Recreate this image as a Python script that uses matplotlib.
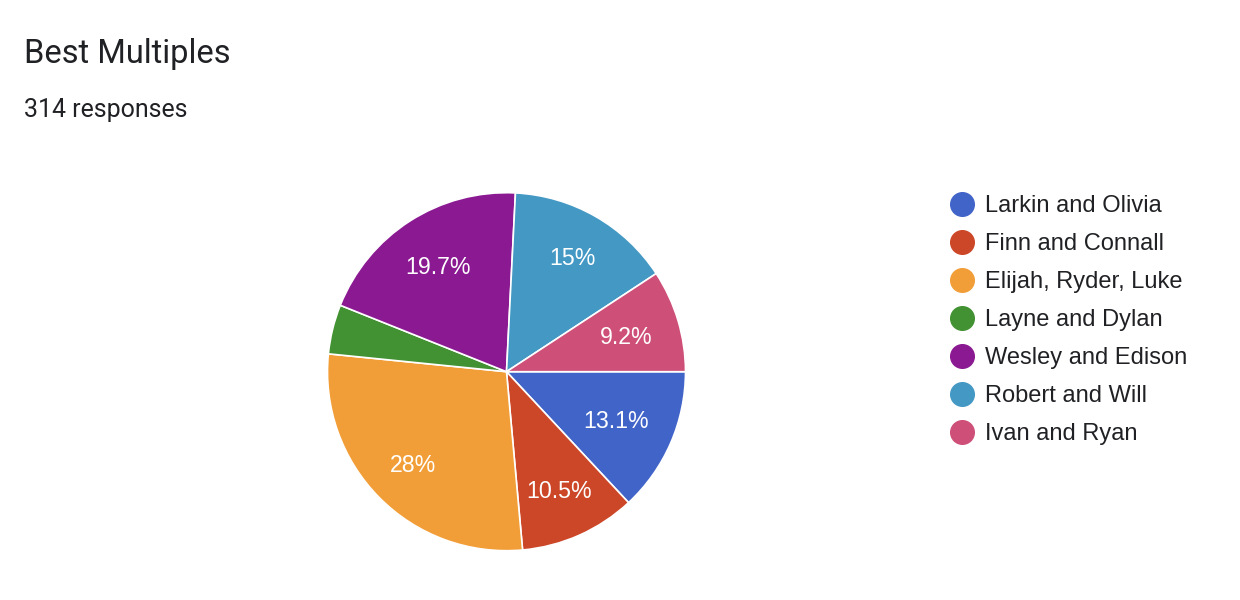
import matplotlib
matplotlib.use("Agg")
import matplotlib.pyplot as plt
import numpy as np
from matplotlib.lines import Line2D

# ---- data ----
title = "Best Multiples"
subtitle = "314 responses"
categories = ["Larkin and Olivia", "Finn and Connall", "Elijah, Ryder, Luke",
              "Layne and Dylan", "Wesley and Edison", "Robert and Will", "Ivan and Ryan"]
counts = [41, 33, 88, 14, 62, 47, 29]
colors = ["#4164C8", "#CC4728", "#F29E38", "#429233", "#8A1992", "#4398C4", "#CE4F78"]
label_dist = [0.665, 0.723, 0.733, 0.70, 0.706, 0.74, 0.70]

W, H = 1240, 600
fig = plt.figure(figsize=(W / 100, H / 100), dpi=100)
fig.patch.set_facecolor("white")

# pie axes placed in pixel space
cx, cy, r = 506.5, 371.7, 179.0
ax = fig.add_axes([(cx - r) / W, (H - cy - r) / H, 2 * r / W, 2 * r / H])


def fmt(p):
    if p < 5:
        return ""
    s = f"{p:.1f}"
    if s.endswith(".0"):
        s = s[:-2]
    return s + "%"


wedges, texts, autotexts = ax.pie(
    counts, colors=colors, startangle=0, counterclock=False, radius=1.0,
    autopct=fmt, pctdistance=0.7,
    wedgeprops=dict(edgecolor="white", linewidth=1.2),
    textprops=dict(color="white", fontsize=16.7, family="Liberation Sans"),
)
for w, t, d in zip(wedges, autotexts, label_dist):
    mid = np.deg2rad((w.theta1 + w.theta2) / 2)
    t.set_position((d * np.cos(mid), d * np.sin(mid) - 0.047))
    t.set_va("baseline")
    t.set_ha("center")
ax.set_xlim(-1, 1)
ax.set_ylim(-1, 1)
ax.set_aspect("equal")
ax.axis("off")

# title and subtitle
fig.text(24 / W, 1 - 62.7 / H, title, fontsize=23.5, family="Roboto",
         color="#202124", ha="left", va="baseline")
fig.text(24 / W, 1 - 116.7 / H, subtitle, fontsize=17.9, family="Roboto",
         color="#202124", ha="left", va="baseline")

# legend (manual)
row0, pitch = 204.0, 38.0
for i, (lab, col) in enumerate(zip(categories, colors)):
    y = row0 + i * pitch
    fig.add_artist(Line2D([961.7 / W], [1 - y / H], marker="o", markersize=17,
                          markerfacecolor=col, markeredgecolor=col, linestyle="none",
                          transform=fig.transFigure))
    fig.text(985 / W, 1 - (y + 8.3) / H, lab, fontsize=17.0, family="Liberation Sans",
             color="#202124", ha="left", va="baseline")

fig.savefig("out.png", dpi=100, facecolor="white")
